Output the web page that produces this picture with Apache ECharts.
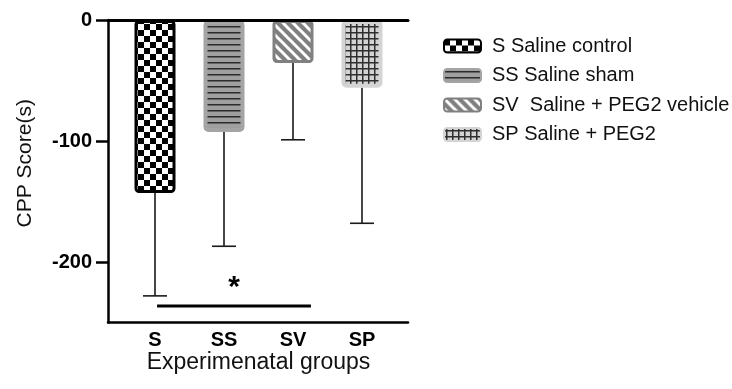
<!DOCTYPE html>
<html>
<head>
<meta charset="utf-8">
<script src="https://cdn.jsdelivr.net/npm/echarts@6/dist/echarts.min.js"></script>
<style>
html,body{margin:0;padding:0;background:#fff;}
#c{width:732px;height:389px;}
</style>
</head>
<body>
<div id="c"></div>
<script>
// ---- data ----
var categories = ['S', 'SS', 'SV', 'SP'];
var legendNames = ['S Saline control', 'SS Saline sham', 'SV  Saline + PEG2 vehicle', 'SP Saline + PEG2'];
var means = [-143, -92.5, -35.5, -56];
var lowerErr = [-228, -187, -99, -168];
var yTicks = [-200, -100, 0];
var sigFrom = 0, sigTo = 2, sigY = -236.4, sigStarY = -221;

// ---- patterns ----
function mk(w, h, draw) {
  var c = document.createElement('canvas');
  c.width = w; c.height = h;
  var g = c.getContext('2d');
  draw(g, w, h);
  return c;
}
var pChecker = mk(12, 12, function (g) {
  g.fillStyle = '#fff'; g.fillRect(0, 0, 12, 12);
  g.fillStyle = '#000'; g.fillRect(0, 0, 6, 6); g.fillRect(6, 6, 6, 6);
});
var pHLines = mk(6, 6, function (g) {
  g.fillStyle = '#9f9f9f'; g.fillRect(0, 0, 6, 6);
  g.fillStyle = '#2a2a2a'; g.fillRect(0, 2, 6, 1.5);
});
var pDiag = mk(10, 10, function (g) {
  g.fillStyle = '#808080'; g.fillRect(0, 0, 10, 10);
  g.strokeStyle = '#fff'; g.lineWidth = 3;
  [-10, 0, 10].forEach(function (o) {
    g.beginPath(); g.moveTo(o - 2, -2); g.lineTo(o + 12, 12); g.stroke();
  });
});
var pGrid = mk(6, 6, function (g) {
  g.fillStyle = '#d3d3d3'; g.fillRect(0, 0, 6, 6);
  g.fillStyle = '#2e2e2e'; g.fillRect(2, 0, 1.5, 6); g.fillRect(0, 2, 6, 1.5);
});
var fills = [pChecker, pHLines, pDiag, pGrid];
var borders = ['#000000', '#a4a4a4', '#808080', '#d4d4d4'];
var borderW = [3, 4, 3, 4];

var series = categories.map(function (cat, i) {
  var d = categories.map(function (_, j) { return j === i ? means[i] : null; });
  return {
    type: 'bar', name: legendNames[i], xAxisIndex: 2, yAxisIndex: 1,
    barWidth: 41, barGap: '-100%', data: d, z: 2,
    itemStyle: {
      color: { image: fills[i], repeat: 'repeat' },
      borderColor: borders[i], borderWidth: borderW[i], borderRadius: 3
    }
  };
});

series.push({
  type: 'custom', xAxisIndex: 2, yAxisIndex: 1, z: 1, silent: true,
  data: categories.map(function (_, i) { return [i, means[i], lowerErr[i]]; }),
  renderItem: function (params, api) {
    var top = api.coord([api.value(0), api.value(1)]);
    var bot = api.coord([api.value(0), api.value(2)]);
    var cap = 12;
    var st = { stroke: '#1a1a1a', lineWidth: 1.6 };
    return { type: 'group', children: [
      { type: 'line', shape: { x1: top[0], y1: top[1], x2: bot[0], y2: bot[1] }, style: st },
      { type: 'line', shape: { x1: bot[0] - cap, y1: bot[1], x2: bot[0] + cap, y2: bot[1] }, style: st }
    ]};
  }
});

series.push({
  type: 'custom', xAxisIndex: 2, yAxisIndex: 1, z: 3, silent: true,
  data: [[sigFrom, sigTo, sigY, sigStarY]],
  renderItem: function (params, api) {
    var band = api.size([1, 0])[0];
    var a = api.coord([api.value(0), api.value(2)]);
    var b = api.coord([api.value(1), api.value(2)]);
    var s = api.coord([api.value(0), api.value(3)]);
    var x1 = a[0] + 0.03 * band, x2 = b[0] + 0.26 * band;
    return { type: 'group', children: [
      { type: 'line', shape: { x1: x1, y1: a[1], x2: x2, y2: a[1] }, style: { stroke: '#000', lineWidth: 3 } },
      { type: 'text', x: (x1 + x2) / 2, y: s[1], style: { text: '*', font: 'bold 30px "Liberation Sans", Arial', fill: '#000', align: 'center', verticalAlign: 'middle' } }
    ]};
  }
});

var chart = echarts.init(document.getElementById('c'), null, { renderer: 'canvas' });
var font = '"Liberation Sans", Arial, sans-serif';
chart.setOption({
  animation: false,
  textStyle: { fontFamily: font },
  grid: [
    { left: 108, top: 20, width: 300, height: 302.5 },
    { left: 120.5, top: 20, width: 276, height: 302.5 }
  ],
  xAxis: [
    { type: 'value', gridIndex: 0, position: 'bottom', min: 0, max: 1,
      axisLine: { show: true, onZero: false, lineStyle: { color: '#000', width: 2.5 } },
      axisTick: { show: false }, axisLabel: { show: false }, splitLine: { show: false } },
    { type: 'value', gridIndex: 0, position: 'top', min: 0, max: 1,
      axisLine: { show: true, onZero: false, lineStyle: { color: '#000', width: 3 } },
      axisTick: { show: false }, axisLabel: { show: false }, splitLine: { show: false }, z: 5 },
    { type: 'category', gridIndex: 1, data: categories, position: 'bottom',
      axisLine: { show: false }, axisTick: { show: false },
      axisLabel: { margin: 8, color: '#000', fontWeight: 'bold', fontSize: 20, fontFamily: font },
      name: 'Experimenatal groups', nameLocation: 'middle', nameGap: 29, nameMoveOverlap: false,
      nameTextStyle: { color: '#111', fontSize: 23, fontFamily: font } }
  ],
  yAxis: [
    { type: 'value', gridIndex: 0, min: -250, max: 0,
      axisLine: { show: true, onZero: false, lineStyle: { color: '#000', width: 2.5 } },
      axisTick: { show: true, length: 12, lineStyle: { color: '#000', width: 2.5 }, customValues: yTicks },
      axisLabel: { margin: 16, color: '#000', fontWeight: 'bold', fontSize: 20, fontFamily: font, customValues: yTicks },
      splitLine: { show: false },
      name: 'CPP Score(s)', nameLocation: 'middle', nameGap: 72, nameRotate: 90,
      nameTextStyle: { color: '#111', fontSize: 21, fontFamily: font, padding: [0, 0, 0, 16] } },
    { type: 'value', gridIndex: 1, min: -250, max: 0, show: false }
  ],
  legend: {
    orient: 'vertical', left: 438, top: 31, itemWidth: 37, itemHeight: 13, itemGap: 9.5,
    icon: 'roundRect', selectedMode: false,
    itemStyle: { borderWidth: 2 },
    textStyle: { fontSize: 20, color: '#111', fontFamily: font, padding: [0, 0, 0, 6] },
    data: legendNames
  },
  series: series
});
</script>
</body>
</html>
